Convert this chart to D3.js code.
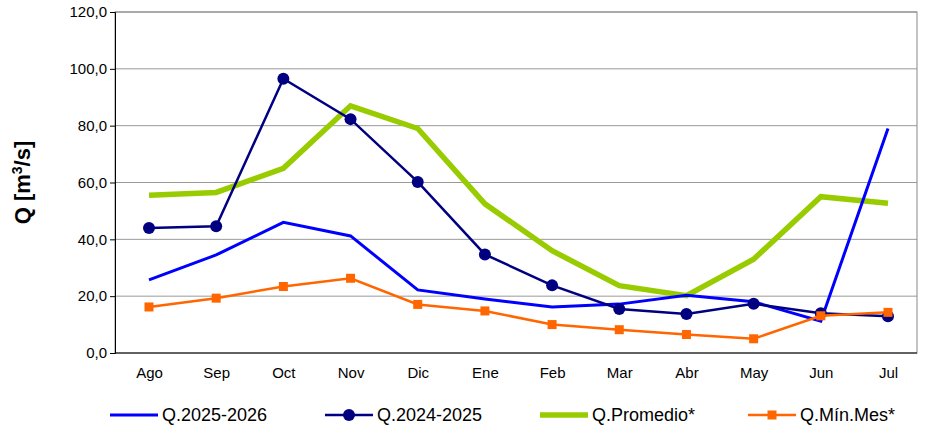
<!DOCTYPE html>
<html><head><meta charset="utf-8">
<script src="https://cdn.jsdelivr.net/npm/d3@7"></script>
<style>body{margin:0;background:#fff}</style></head>
<body><svg id="c" width="927" height="430"></svg>
<script>
const categories=["Ago","Sep","Oct","Nov","Dic","Ene","Feb","Mar","Abr","May","Jun","Jul"];
const q2526=[25.7,34.5,46,41.2,22.2,19,16.2,17.2,20.3,18,11.2,79];
const q2425=[44,44.6,96.5,82.3,60.2,34.7,23.8,15.5,13.7,17.3,14,12.9];
const qProm=[55.5,56.5,65,87,79,52.5,36,23.7,20.2,33,55,52.7];
const qMin=[16.2,19.3,23.4,26.3,17.1,14.8,10,8.2,6.5,5,13.1,14.3];
const yTicks=[0,20,40,60,80,100,120];
const svg=d3.select("#c");
const L=115,R=917,T=12,B=353;
const x=d3.scalePoint().domain(categories).range([149,888]);
const y=d3.scaleLinear().domain([0,120]).range([B,T]);
const fmt=d=>d.toFixed(1).replace(".",",");
svg.append("g").selectAll("line").data(yTicks.slice(1)).join("line")
 .attr("x1",L).attr("x2",R).attr("y1",d=>y(d)).attr("y2",d=>y(d)).attr("stroke","#999").attr("stroke-width",1);
svg.append("rect").attr("x",L).attr("y",T).attr("width",R-L).attr("height",B-T).attr("fill","none").attr("stroke","#888");
const ya=svg.append("g").attr("transform",`translate(${L},0)`).call(d3.axisLeft(y).tickValues(yTicks).tickFormat(fmt).tickSize(5));
ya.selectAll("text").attr("font-family","Liberation Sans, Arial").attr("font-size",15).attr("fill","#000");
ya.select(".domain").attr("stroke","#000");
const xa=svg.append("g").attr("transform",`translate(0,${B})`).call(d3.axisBottom(x).tickSize(0).tickPadding(14));
xa.selectAll("text").attr("font-family","Liberation Sans, Arial").attr("font-size",15).attr("fill","#000");
xa.select(".domain").attr("d",`M${L},0H${R}`).attr("stroke","#000");
svg.append("text").attr("transform",`translate(30,${(T+B)/2}) rotate(-90)`).attr("text-anchor","middle")
 .attr("font-family","Liberation Sans, Arial").attr("font-weight","bold").attr("font-size",22)
 .html('Q [m<tspan baseline-shift="super" font-size="14">3</tspan>/s]');
const cx=(d,i)=>x(categories[i]);
const line=d3.line().x(cx).y(d=>y(d));
const series=[
 {name:"Q.2025-2026",data:q2526,color:"#0000FF",w:3,m:null},
 {name:"Q.2024-2025",data:q2425,color:"#000080",w:2.5,m:"circle"},
 {name:"Q.Promedio*",data:qProm,color:"#99CC00",w:5.5,m:null},
 {name:"Q.Mín.Mes*",data:qMin,color:"#FF6600",w:2.5,m:"square"}];
const draw=[series[2],series[0],series[1],series[3]];
draw.forEach(s=>{
 svg.append("path").datum(s.data).attr("d",line).attr("fill","none").attr("stroke",s.color).attr("stroke-width",s.w);
 if(s.m==="circle") svg.append("g").selectAll("circle").data(s.data).join("circle").attr("cx",cx).attr("cy",d=>y(d)).attr("r",6).attr("fill",s.color);
 if(s.m==="square") svg.append("g").selectAll("rect").data(s.data).join("rect").attr("x",(d,i)=>cx(d,i)-4.5).attr("y",d=>y(d)-4.5).attr("width",9).attr("height",9).attr("fill",s.color);
});
const lx=[110,325,540,748];
series.forEach((s,i)=>{
 const g=svg.append("g").attr("transform",`translate(${lx[i]},415)`);
 g.append("line").attr("x1",0).attr("x2",48).attr("stroke",s.color).attr("stroke-width",s.w);
 if(s.m==="circle") g.append("circle").attr("cx",24).attr("r",6).attr("fill",s.color);
 if(s.m==="square") g.append("rect").attr("x",19.5).attr("y",-4.5).attr("width",9).attr("height",9).attr("fill",s.color);
 g.append("text").attr("x",52).attr("y",6).attr("font-family","Liberation Sans, Arial").attr("font-size",18).text(s.name);
});
</script></body></html>
